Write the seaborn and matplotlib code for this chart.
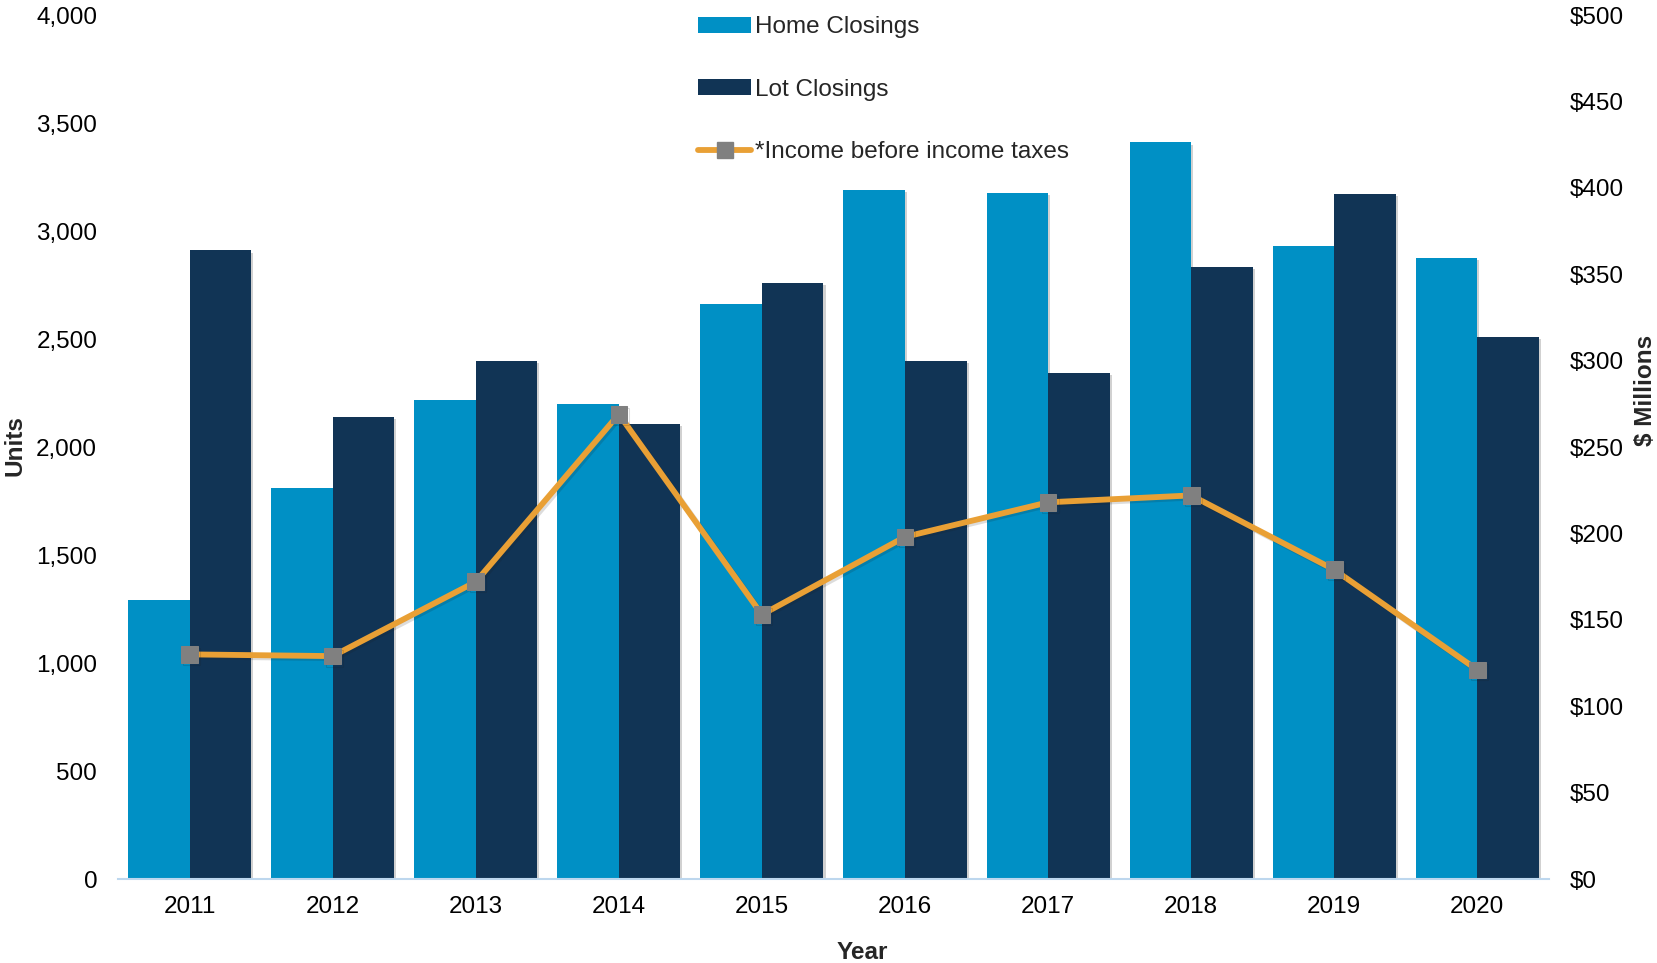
import numpy as np
import pandas as pd
import matplotlib
matplotlib.use("Agg")
import matplotlib.pyplot as plt
import matplotlib.patheffects as pe
from matplotlib.patches import Patch
from matplotlib.lines import Line2D
from matplotlib.ticker import FuncFormatter
import seaborn as sns

years = ["2011", "2012", "2013", "2014", "2015", "2016", "2017", "2018", "2019", "2020"]
home_closings = [1290, 1810, 2220, 2200, 2660, 3190, 3175, 3410, 2930, 2875]
lot_closings = [2910, 2140, 2400, 2105, 2760, 2400, 2345, 2835, 3170, 2510]
income_before_taxes = [130, 129, 172, 269, 153, 198, 218, 222, 179, 121]

series_names = ["Home Closings", "Lot Closings"]
line_name = "*Income before income taxes"

HOME_COLOR = "#0090C5"
LOT_COLOR = "#113455"
LINE_COLOR = "#E9A035"
MARKER_COLOR = "#808080"
FS = 17.5

sns.set_theme(style="white")
plt.rcParams["font.family"] = ["Liberation Sans", "DejaVu Sans"]

df = pd.DataFrame({
    "Year": years * 2,
    "Units": home_closings + lot_closings,
    "Series": [series_names[0]] * len(years) + [series_names[1]] * len(years),
})

fig = plt.figure(figsize=(16.58, 9.63), dpi=100)
ax = fig.add_axes([0.0712, 0.0872, 0.8630, 0.8972])

sns.barplot(data=df, x="Year", y="Units", hue="Series", order=years,
            hue_order=series_names, palette=[HOME_COLOR, LOT_COLOR],
            width=0.86, gap=0, saturation=1, linewidth=0, ax=ax, legend=False)

shadow = [pe.SimplePatchShadow(offset=(1.5, -1.5), alpha=0.18, shadow_rgbFace="black"), pe.Normal()]
for p in ax.patches:
    p.set_path_effects(shadow)

ax.set_xlim(-0.5, len(years) - 0.5)
ax.set_ylim(0, 4000)
ax.set_yticks(np.arange(0, 4001, 500))
ax.yaxis.set_major_formatter(FuncFormatter(lambda v, _: f"{int(v):,}"))
ax.tick_params(axis="both", length=0, labelsize=FS, colors="black")
ax.tick_params(axis="y", pad=15)
ax.tick_params(axis="x", pad=12)
for s in ["top", "left", "right"]:
    ax.spines[s].set_visible(False)
ax.spines["bottom"].set_color("#BDD7EE")
ax.spines["bottom"].set_linewidth(1.5)
ax.set_xlabel("")
ax.set_ylabel("")
ax.grid(False)

ax2 = ax.twinx()
sns.lineplot(x=np.arange(len(years)), y=income_before_taxes, ax=ax2,
             color=LINE_COLOR, linewidth=4.2, marker="s", markersize=12,
             markerfacecolor=MARKER_COLOR, markeredgecolor=MARKER_COLOR,
             path_effects=[pe.SimpleLineShadow(offset=(1.5, -1.5), alpha=0.15), pe.Normal()])
ax2.set_ylim(0, 500)
ax2.set_yticks(np.arange(0, 501, 50))
ax2.yaxis.set_major_formatter(FuncFormatter(lambda v, _: f"${int(v)}"))
ax2.tick_params(axis="y", length=0, labelsize=FS, colors="black", pad=15)
for s in ["top", "left", "right", "bottom"]:
    ax2.spines[s].set_visible(False)
ax2.set_ylabel("")
ax2.grid(False)

# axis titles
fig.text(15 / 1658, 1 - 446 / 963, "Units", rotation=90, ha="center", va="center",
         fontsize=FS, fontweight="bold")
fig.text(1646 / 1658, 1 - 390 / 963, "$ Millions", rotation=90, ha="center", va="center",
         fontsize=FS, fontweight="bold")
fig.text(862 / 1658, 1 - 952 / 963, "Year", ha="center", va="center",
         fontsize=FS, fontweight="bold")

handles = [
    Patch(facecolor=HOME_COLOR, edgecolor="none"),
    Patch(facecolor=LOT_COLOR, edgecolor="none"),
    Line2D([0], [0], color=LINE_COLOR, linewidth=4.2, marker="s", markersize=12,
           markerfacecolor=MARKER_COLOR, markeredgecolor=MARKER_COLOR),
]
fig.legend(handles, series_names + [line_name], loc="upper left",
           bbox_to_anchor=(0.415, 0.993), frameon=False, fontsize=FS,
           handlelength=2.2, handleheight=0.6, handletextpad=0.15, labelspacing=1.65,
           borderaxespad=0)

fig.savefig("out.png", dpi=100)
